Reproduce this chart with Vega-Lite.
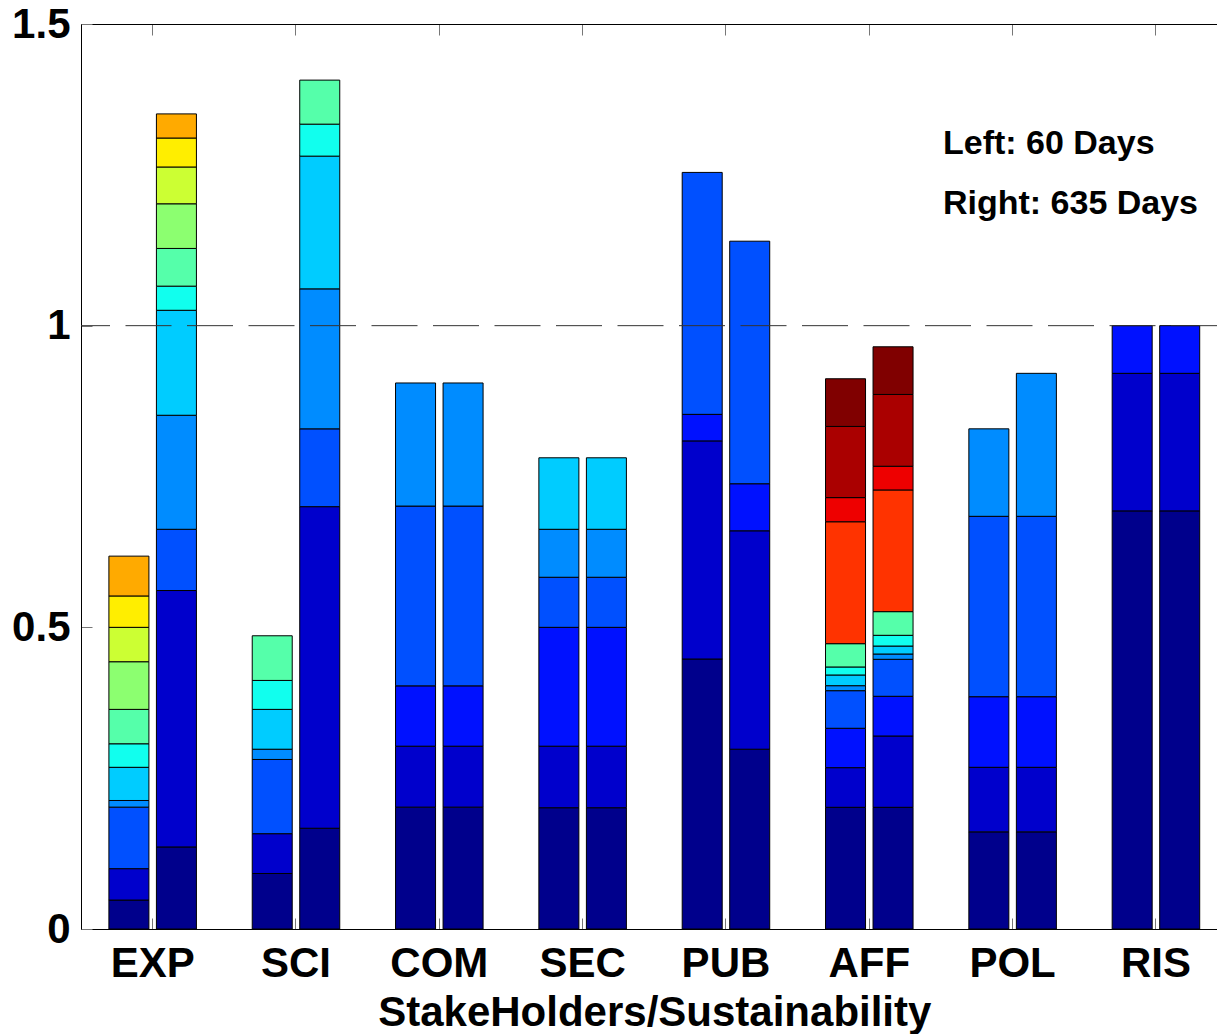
{
  "$schema": "https://vega.github.io/schema/vega-lite/v6.json",
  "width": 1136,
  "height": 905,
  "autosize": {"type": "none"},
  "padding": {"left": 81, "top": 24, "right": 0, "bottom": 105},
  "background": "white",
  "config": {"view": {"stroke": null}, "font": "Liberation Sans"},
  "datasets": {
    "segs": [
      {"g":"EXP","d":"L","s":1,"v":0.048},{"g":"EXP","d":"L","s":2,"v":0.052},{"g":"EXP","d":"L","s":4,"v":0.102},{"g":"EXP","d":"L","s":5,"v":0.011},{"g":"EXP","d":"L","s":6,"v":0.055},{"g":"EXP","d":"L","s":7,"v":0.039},{"g":"EXP","d":"L","s":8,"v":0.057},{"g":"EXP","d":"L","s":9,"v":0.079},{"g":"EXP","d":"L","s":10,"v":0.057},{"g":"EXP","d":"L","s":11,"v":0.052},{"g":"EXP","d":"L","s":12,"v":0.066},
      {"g":"EXP","d":"R","s":1,"v":0.136},{"g":"EXP","d":"R","s":2,"v":0.425},{"g":"EXP","d":"R","s":4,"v":0.1015},{"g":"EXP","d":"R","s":5,"v":0.189},{"g":"EXP","d":"R","s":6,"v":0.174},{"g":"EXP","d":"R","s":7,"v":0.040},{"g":"EXP","d":"R","s":8,"v":0.0625},{"g":"EXP","d":"R","s":9,"v":0.074},{"g":"EXP","d":"R","s":10,"v":0.061},{"g":"EXP","d":"R","s":11,"v":0.048},{"g":"EXP","d":"R","s":12,"v":0.040},
      {"g":"SCI","d":"L","s":1,"v":0.092},{"g":"SCI","d":"L","s":2,"v":0.066},{"g":"SCI","d":"L","s":4,"v":0.123},{"g":"SCI","d":"L","s":5,"v":0.017},{"g":"SCI","d":"L","s":6,"v":0.066},{"g":"SCI","d":"L","s":7,"v":0.048},{"g":"SCI","d":"L","s":8,"v":0.074},
      {"g":"SCI","d":"R","s":1,"v":0.167},{"g":"SCI","d":"R","s":2,"v":0.533},{"g":"SCI","d":"R","s":4,"v":0.129},{"g":"SCI","d":"R","s":5,"v":0.232},{"g":"SCI","d":"R","s":6,"v":0.220},{"g":"SCI","d":"R","s":7,"v":0.053},{"g":"SCI","d":"R","s":8,"v":0.073},
      {"g":"COM","d":"L","s":1,"v":0.202},{"g":"COM","d":"L","s":2,"v":0.101},{"g":"COM","d":"L","s":3,"v":0.100},{"g":"COM","d":"L","s":4,"v":0.298},{"g":"COM","d":"L","s":5,"v":0.204},
      {"g":"COM","d":"R","s":1,"v":0.202},{"g":"COM","d":"R","s":2,"v":0.101},{"g":"COM","d":"R","s":3,"v":0.100},{"g":"COM","d":"R","s":4,"v":0.298},{"g":"COM","d":"R","s":5,"v":0.204},
      {"g":"SEC","d":"L","s":1,"v":0.201},{"g":"SEC","d":"L","s":2,"v":0.102},{"g":"SEC","d":"L","s":3,"v":0.197},{"g":"SEC","d":"L","s":4,"v":0.083},{"g":"SEC","d":"L","s":5,"v":0.0795},{"g":"SEC","d":"L","s":6,"v":0.1185},
      {"g":"SEC","d":"R","s":1,"v":0.201},{"g":"SEC","d":"R","s":2,"v":0.102},{"g":"SEC","d":"R","s":3,"v":0.197},{"g":"SEC","d":"R","s":4,"v":0.083},{"g":"SEC","d":"R","s":5,"v":0.0795},{"g":"SEC","d":"R","s":6,"v":0.1185},
      {"g":"PUB","d":"L","s":1,"v":0.4475},{"g":"PUB","d":"L","s":2,"v":0.3615},{"g":"PUB","d":"L","s":3,"v":0.044},{"g":"PUB","d":"L","s":4,"v":0.401},
      {"g":"PUB","d":"R","s":1,"v":0.298},{"g":"PUB","d":"R","s":2,"v":0.362},{"g":"PUB","d":"R","s":3,"v":0.078},{"g":"PUB","d":"R","s":4,"v":0.402},
      {"g":"AFF","d":"L","s":1,"v":0.2017},{"g":"AFF","d":"L","s":2,"v":0.0657},{"g":"AFF","d":"L","s":3,"v":0.0653},{"g":"AFF","d":"L","s":4,"v":0.0623},{"g":"AFF","d":"L","s":5,"v":0.0083},{"g":"AFF","d":"L","s":6,"v":0.0177},{"g":"AFF","d":"L","s":7,"v":0.0133},{"g":"AFF","d":"L","s":8,"v":0.0386},{"g":"AFF","d":"L","s":14,"v":0.2021},{"g":"AFF","d":"L","s":15,"v":0.040},{"g":"AFF","d":"L","s":16,"v":0.118},{"g":"AFF","d":"L","s":17,"v":0.079},
      {"g":"AFF","d":"R","s":1,"v":0.2017},{"g":"AFF","d":"R","s":2,"v":0.1182},{"g":"AFF","d":"R","s":3,"v":0.0658},{"g":"AFF","d":"R","s":4,"v":0.0613},{"g":"AFF","d":"R","s":5,"v":0.0088},{"g":"AFF","d":"R","s":6,"v":0.0132},{"g":"AFF","d":"R","s":7,"v":0.0178},{"g":"AFF","d":"R","s":8,"v":0.0392},{"g":"AFF","d":"R","s":14,"v":0.2017},{"g":"AFF","d":"R","s":15,"v":0.0393},{"g":"AFF","d":"R","s":16,"v":0.119},{"g":"AFF","d":"R","s":17,"v":0.079},
      {"g":"POL","d":"L","s":1,"v":0.161},{"g":"POL","d":"L","s":2,"v":0.107},{"g":"POL","d":"L","s":3,"v":0.117},{"g":"POL","d":"L","s":4,"v":0.299},{"g":"POL","d":"L","s":5,"v":0.145},
      {"g":"POL","d":"R","s":1,"v":0.161},{"g":"POL","d":"R","s":2,"v":0.107},{"g":"POL","d":"R","s":3,"v":0.117},{"g":"POL","d":"R","s":4,"v":0.299},{"g":"POL","d":"R","s":5,"v":0.237},
      {"g":"RIS","d":"L","s":1,"v":0.693},{"g":"RIS","d":"L","s":2,"v":0.228},{"g":"RIS","d":"L","s":3,"v":0.079},
      {"g":"RIS","d":"R","s":1,"v":0.693},{"g":"RIS","d":"R","s":2,"v":0.228},{"g":"RIS","d":"R","s":3,"v":0.079}
    ],
    "notes": [
      {"g":"POL","v":1.2846,"label":"Left: 60 Days"},
      {"g":"POL","v":1.1851,"label":"Right: 635 Days"}
    ],
    "ref": [{"v":1}]
  },
  "layer": [
    {
      "data": {"name": "segs"},
      "mark": {"type": "bar", "stroke": "black", "strokeWidth": 1},
      "encoding": {
        "x": {
          "field": "g", "type": "nominal",
          "sort": ["EXP","SCI","COM","SEC","PUB","AFF","POL","RIS"],
          "scale": {"range": [0, 1146.6], "paddingInner": 0, "paddingOuter": 0},
          "axis": {
            "orient": "bottom", "title": "StakeHolders/Sustainability",
            "labelAngle": 0, "labelFont": "Liberation Sans", "labelFontSize": 42, "labelFontWeight": "bold", "labelColor": "black",
            "labelBaseline": "alphabetic", "labelPadding": 58,
            "titleFont": "Liberation Sans", "titleFontSize": 42, "titleFontWeight": "bold", "titleColor": "black",
            "titleBaseline": "alphabetic", "titleY": 96,
            "domainColor": "black", "domainWidth": 1, "tickColor": "#777777", "tickSize": -11, "tickWidth": 1
          }
        },
        "xOffset": {"field": "d", "type": "nominal", "sort": ["L","R"], "scale": {"paddingInner": 0.158, "paddingOuter": 0.587}},
        "y": {
          "field": "v", "type": "quantitative", "stack": "zero",
          "scale": {"domain": [0, 1.5], "nice": false, "zero": true},
          "axis": {
            "orient": "left", "title": null, "values": [0, 0.5, 1, 1.5], "format": ".1~f", "grid": false,
            "labelFont": "Liberation Sans", "labelFontSize": 42, "labelFontWeight": "bold", "labelColor": "black",
            "labelPadding": 22, "labelFlush": false, "labelOverlap": false,
            "domainColor": "black", "domainWidth": 1, "tickColor": "#777777", "tickSize": -11
          }
        },
        "color": {
          "field": "s", "type": "ordinal", "legend": null,
          "scale": {
            "domain": [1,2,3,4,5,6,7,8,9,10,11,12,13,14,15,16,17],
            "range": ["#00008C","#0000CC","#0011FF","#0050FF","#008CFF","#00CCFF","#11FFEE","#55FFAA","#8CFF70","#CCFF33","#FFEE00","#FFAA00","#FF6600","#FF3300","#EE0000","#AA0000","#800000"]
          }
        },
        "order": {"field": "s", "type": "quantitative"}
      }
    },
    {
      "data": {"name": "ref"},
      "mark": {"type": "rule", "color": "#333333", "strokeWidth": 1, "strokeDash": [46, 15.5]},
      "encoding": {
        "y": {"field": "v", "type": "quantitative"}
      }
    },
    {
      "data": {"name": "notes"},
      "mark": {"type": "text", "align": "left", "baseline": "alphabetic", "font": "Liberation Sans", "fontSize": 34, "fontWeight": "bold", "color": "black", "dx": 2},
      "encoding": {
        "x": {
          "field": "g", "type": "nominal", "bandPosition": 0,
          "sort": ["EXP","SCI","COM","SEC","PUB","AFF","POL","RIS"],
          "axis": {"orient": "top", "title": null, "labels": false, "domainColor": "black", "domainWidth": 1, "tickColor": "#777777", "tickSize": -11}
        },
        "y": {"field": "v", "type": "quantitative"},
        "text": {"field": "label"}
      }
    }
  ],
  "resolve": {"axis": {"x": "independent"}}
}
